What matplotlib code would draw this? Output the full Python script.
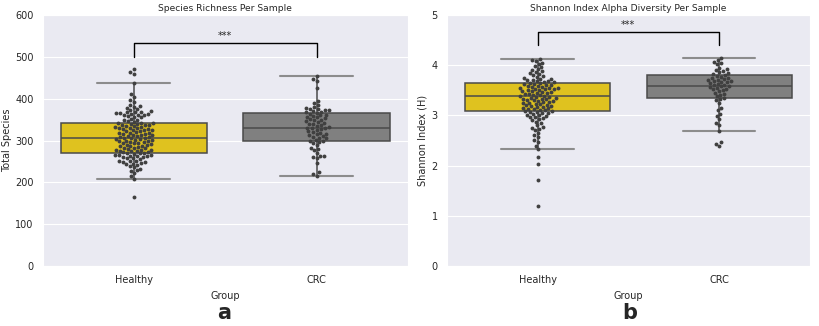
import matplotlib
matplotlib.use("Agg")
import matplotlib.pyplot as plt
import seaborn as sns
import pandas as pd

sns.set_style("darkgrid")
plt.rcParams['font.family'] = ['DejaVu Sans']

groups = ["Healthy", "CRC"]
box_colors = ["#dfc21f", "#808080"]

# species richness values
healthy_richness = [165, 207, 214, 222, 228, 229, 233, 236, 238, 241, 243, 245, 246, 248, 249,
                    251, 252, 252, 255, 257, 258, 260, 261, 262, 263, 263, 265, 266, 266, 268,
                    269, 270, 271, 272, 273, 275, 275, 276, 277, 278, 278, 280, 281, 282, 283,
                    285, 286, 287, 288, 289, 290, 291, 293, 294, 295, 296, 297, 298, 299, 300,
                    301, 302, 303, 304, 305, 306, 307, 308, 309, 310, 311, 312, 313, 314, 315,
                    316, 318, 318, 319, 320, 322, 323, 324, 325, 326, 327, 328, 329, 330, 331,
                    332, 333, 334, 335, 336, 337, 338, 339, 340, 341, 342, 343, 345, 346, 348,
                    350, 352, 355, 357, 358, 360, 361, 362, 363, 364, 365, 366, 367, 368, 369,
                    370, 372, 375, 377, 380, 382, 385, 391, 396, 404, 410, 437, 459, 464, 470]
crc_richness = [216, 220, 224, 247, 258, 260, 262, 263, 270, 278, 280, 282, 290, 295, 297,
                299, 300, 302, 305, 307, 309, 311, 313, 315, 316, 318, 320, 322, 325, 327,
                329, 330, 331, 333, 335, 337, 339, 340, 342, 344, 346, 348, 350, 351, 353,
                355, 357, 358, 360, 362, 364, 366, 367, 369, 370, 372, 373, 375, 376, 378,
                380, 385, 390, 395, 426, 443, 446, 454]

# shannon index values
healthy_shannon = [1.20, 1.72, 2.04, 2.18, 2.33, 2.40, 2.47, 2.52, 2.56, 2.60, 2.64, 2.70, 2.73, 2.75,
                   2.77, 2.80, 2.84, 2.87, 2.90, 2.92, 2.94, 2.96, 2.97, 2.99, 3.00, 3.01, 3.03, 3.04,
                   3.05, 3.06, 3.07, 3.08, 3.09, 3.10, 3.11, 3.12, 3.13, 3.14, 3.15, 3.16, 3.17, 3.18,
                   3.19, 3.20, 3.21, 3.22, 3.23, 3.24, 3.25, 3.26, 3.27, 3.28, 3.29, 3.30, 3.31, 3.32,
                   3.33, 3.33, 3.34, 3.35, 3.36, 3.37, 3.38, 3.39, 3.40, 3.41, 3.42, 3.43, 3.44, 3.45,
                   3.46, 3.47, 3.48, 3.49, 3.50, 3.51, 3.52, 3.52, 3.53, 3.54, 3.55, 3.55, 3.56, 3.57,
                   3.58, 3.59, 3.60, 3.61, 3.62, 3.63, 3.64, 3.65, 3.66, 3.67, 3.68, 3.69, 3.70, 3.71,
                   3.72, 3.73, 3.74, 3.76, 3.78, 3.80, 3.82, 3.84, 3.86, 3.88, 3.90, 3.93, 3.96, 3.99,
                   4.02, 4.05, 4.08, 4.10, 4.12]
crc_shannon = [2.40, 2.44, 2.47, 2.68, 2.80, 2.85, 2.92, 2.98, 3.03, 3.10, 3.15, 3.25, 3.30, 3.33,
               3.35, 3.38, 3.41, 3.43, 3.45, 3.48, 3.50, 3.52, 3.53, 3.55, 3.56, 3.58, 3.59, 3.60,
               3.61, 3.63, 3.64, 3.66, 3.67, 3.68, 3.69, 3.70, 3.71, 3.72, 3.74, 3.75, 3.77, 3.79,
               3.80, 3.82, 3.84, 3.86, 3.88, 3.90, 3.92, 3.95, 4.02, 4.05, 4.07, 4.10, 4.15]

# box statistics: q1, median, q3, lower whisker, upper whisker
richness_q1 = [271, 299]
richness_med = [305, 331]
richness_q3 = [341, 366]
richness_whislo = [207, 216]
richness_whishi = [437, 454]

shannon_q1 = [3.09, 3.35]
shannon_med = [3.39, 3.59]
shannon_q3 = [3.65, 3.80]
shannon_whislo = [2.33, 2.68]
shannon_whishi = [4.12, 4.15]


def draw_panel(ax, values, q1, med, q3, lo, hi, title, ylabel, ymax, bracket, bracket_low, ylab_x):
    stats = []
    for i in range(2):
        stats.append({"q1": q1[i], "med": med[i], "q3": q3[i],
                      "whislo": lo[i], "whishi": hi[i], "fliers": []})
    bp = ax.bxp(stats, positions=[0, 1], widths=0.8, capwidths=0.4,
                patch_artist=True, showfliers=False,
                boxprops=dict(edgecolor="#4a4a4a", linewidth=1.1),
                medianprops=dict(color="#4a4a4a", linewidth=1.1),
                whiskerprops=dict(color="#4a4a4a", linewidth=1.1),
                capprops=dict(color="#8c8c8c", linewidth=1.5))
    for patch, c in zip(bp["boxes"], box_colors):
        patch.set_facecolor(c)

    df = pd.DataFrame({"Group": ["Healthy"] * len(values[0]) + ["CRC"] * len(values[1]),
                       "v": list(values[0]) + list(values[1])})
    sns.swarmplot(data=df, x="Group", y="v", order=groups, color="#404040",
                  size=2.8, ax=ax, zorder=3)

    # significance bracket
    ax.plot([0, 0, 1, 1], [bracket_low, bracket, bracket, bracket_low], color="black", lw=1)
    ax.text(0.5, bracket + ymax * 0.008, "***", ha="center", va="bottom", fontsize=7)

    ax.set_xlim(-0.5, 1.5)
    ax.set_ylim(0, ymax)
    ax.set_xticks([0, 1])
    ax.set_xticklabels(groups)
    ax.set_title(title, fontsize=6.6, pad=3)
    ax.set_xlabel("Group", fontsize=7, labelpad=4)
    ax.set_ylabel(ylabel, fontsize=7)
    ax.yaxis.set_label_coords(ylab_x, 0.5)
    ax.tick_params(labelsize=7, pad=3)
    ax.xaxis.grid(False)


fig = plt.figure(figsize=(8.19, 3.26), dpi=100)
ax1 = fig.add_axes([0.052, 0.184, 0.446, 0.770])
ax2 = fig.add_axes([0.5454, 0.184, 0.4436, 0.770])

draw_panel(ax1, [healthy_richness, crc_richness], richness_q1, richness_med, richness_q3,
           richness_whislo, richness_whishi, "Species Richness Per Sample", "Total Species",
           600, 532, 500, -0.084)
ax1.set_yticks([0, 100, 200, 300, 400, 500, 600])

draw_panel(ax2, [healthy_shannon, crc_shannon], shannon_q1, shannon_med, shannon_q3,
           shannon_whislo, shannon_whishi, "Shannon Index Alpha Diversity Per Sample",
           "Shannon Index (H)", 5, 4.655, 4.40, -0.054)
ax2.set_yticks([0, 1, 2, 3, 4, 5])

fig.text(0.2735, 0.02, "a", ha="center", va="baseline", fontsize=15, fontweight="bold")
fig.text(0.769, 0.02, "b", ha="center", va="baseline", fontsize=15, fontweight="bold")

fig.savefig("out.png", dpi=100)
